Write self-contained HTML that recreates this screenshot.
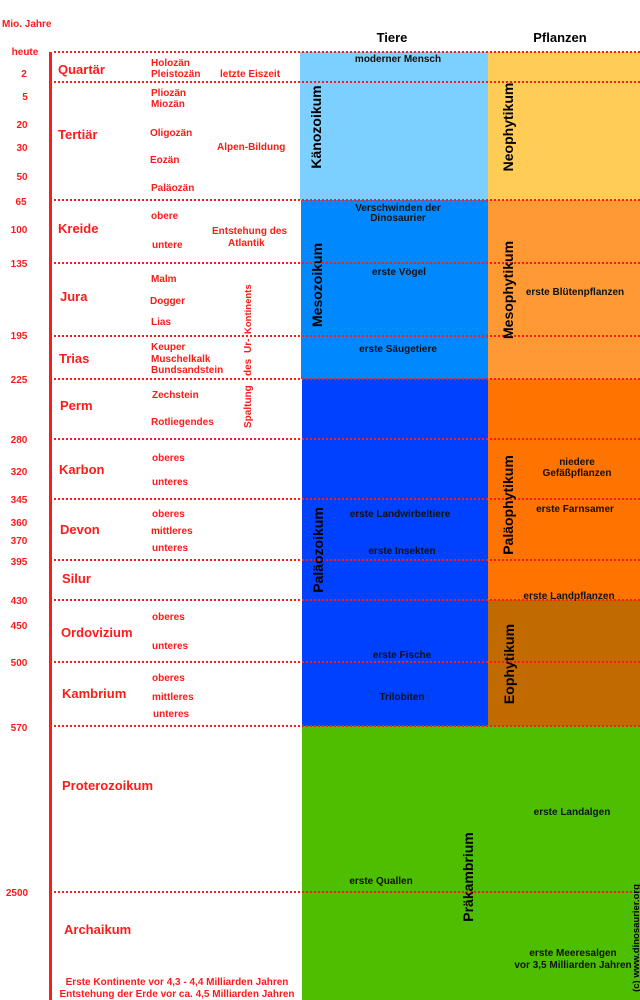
<!DOCTYPE html>
<html><head><meta charset="utf-8"><style>
html,body{margin:0;padding:0;background:#fff;width:640px;height:1000px;overflow:hidden}
svg{display:block}
text{font-family:"Liberation Sans",Arial,sans-serif;font-weight:bold}
.n{font-size:10px;fill:#ff1a1a}
.e{font-size:13px;fill:#ff1a1a}
.s{font-size:10px;fill:#ff1a1a}
.b{font-size:10px;fill:#111}
.v{font-size:13px;fill:#000}
.vv{font-size:14px;fill:#000}
</style></head><body>
<svg width="640" height="1000" viewBox="0 0 640 1000" xmlns="http://www.w3.org/2000/svg">
<rect x="300" y="52" width="188" height="148" fill="#7cd0ff"/>
<rect x="301" y="200" width="187" height="179" fill="#0088ff"/>
<rect x="302" y="379" width="186" height="347" fill="#0040ff"/>
<rect x="302" y="726" width="338" height="274" fill="#4dbf00"/>
<rect x="488" y="52" width="152" height="148" fill="#ffcc55"/>
<rect x="488" y="200" width="152" height="179" fill="#ff9933"/>
<rect x="488" y="379" width="152" height="221" fill="#ff7300"/>
<rect x="488" y="600" width="152" height="126" fill="#c06a00"/>
<rect x="49" y="52" width="3" height="948" fill="#ff1a1a"/>
<g stroke="#ff1a1a" stroke-width="2" stroke-dasharray="2,2">
<line x1="54" x2="640" y1="52" y2="52"/>
<line x1="54" x2="640" y1="82" y2="82"/>
<line x1="54" x2="640" y1="200" y2="200"/>
<line x1="54" x2="640" y1="263" y2="263"/>
<line x1="54" x2="640" y1="336" y2="336"/>
<line x1="54" x2="640" y1="379" y2="379"/>
<line x1="54" x2="640" y1="439" y2="439"/>
<line x1="54" x2="640" y1="499" y2="499"/>
<line x1="54" x2="640" y1="560" y2="560"/>
<line x1="54" x2="640" y1="600" y2="600"/>
<line x1="54" x2="640" y1="662" y2="662"/>
<line x1="54" x2="640" y1="726" y2="726"/>
<line x1="54" x2="640" y1="892" y2="892"/>
</g>
<text x="2" y="27" class="n">Mio. Jahre</text>
<text x="392" y="42" class="v" text-anchor="middle">Tiere</text>
<text x="560" y="42" class="v" text-anchor="middle">Pflanzen</text>
<g class="n" text-anchor="middle">
<text x="25" y="55">heute</text>
<text x="24" y="77">2</text>
<text x="25" y="100">5</text>
<text x="22" y="128">20</text>
<text x="22" y="151">30</text>
<text x="22" y="180">50</text>
<text x="21" y="205">65</text>
<text x="19" y="233">100</text>
<text x="19" y="267">135</text>
<text x="19" y="339">195</text>
<text x="19" y="383">225</text>
<text x="19" y="443">280</text>
<text x="19" y="475">320</text>
<text x="19" y="503">345</text>
<text x="19" y="526">360</text>
<text x="19" y="544">370</text>
<text x="19" y="565">395</text>
<text x="19" y="604">430</text>
<text x="19" y="629">450</text>
<text x="19" y="666">500</text>
<text x="19" y="731">570</text>
<text x="17" y="896">2500</text>
</g>
<g class="e">
<text x="58" y="74">Quartär</text>
<text x="58" y="139">Tertiär</text>
<text x="58" y="233">Kreide</text>
<text x="60" y="301">Jura</text>
<text x="59" y="363">Trias</text>
<text x="60" y="410">Perm</text>
<text x="59" y="474">Karbon</text>
<text x="60" y="534">Devon</text>
<text x="62" y="583">Silur</text>
<text x="61" y="637">Ordovizium</text>
<text x="62" y="698">Kambrium</text>
<text x="62" y="790">Proterozoikum</text>
<text x="64" y="934">Archaikum</text>
</g>
<g class="s">
<text x="151" y="66">Holozän</text>
<text x="151" y="77">Pleistozän</text>
<text x="220" y="77">letzte Eiszeit</text>
<text x="151" y="96">Pliozän</text>
<text x="151" y="107">Miozän</text>
<text x="150" y="136">Oligozän</text>
<text x="217" y="150">Alpen-Bildung</text>
<text x="150" y="163">Eozän</text>
<text x="151" y="191">Paläozän</text>
<text x="151" y="219">obere</text>
<text x="212" y="234">Entstehung des</text>
<text x="228" y="246">Atlantik</text>
<text x="152" y="248">untere</text>
<text x="151" y="282">Malm</text>
<text x="150" y="304">Dogger</text>
<text x="151" y="325">Lias</text>
<text x="151" y="350">Keuper</text>
<text x="151" y="362">Muschelkalk</text>
<text x="151" y="373">Bundsandstein</text>
<text x="152" y="398">Zechstein</text>
<text x="151" y="425">Rotliegendes</text>
<text x="152" y="461">oberes</text>
<text x="152" y="485">unteres</text>
<text x="152" y="517">oberes</text>
<text x="151" y="534">mittleres</text>
<text x="152" y="551">unteres</text>
<text x="152" y="620">oberes</text>
<text x="152" y="649">unteres</text>
<text x="152" y="681">oberes</text>
<text x="152" y="700">mittleres</text>
<text x="153" y="717">unteres</text>
<text transform="translate(251,428) rotate(-90)">Spaltung</text>
<text transform="translate(251,376) rotate(-90)">des</text>
<text transform="translate(251,353) rotate(-90)">Ur-</text>
<text transform="translate(251,334) rotate(-90)" style="font-size:9.5px">Kontinents</text>
<text x="177" y="985" text-anchor="middle">Erste Kontinente vor 4,3 - 4,4 Milliarden Jahren</text>
<text x="177" y="997" text-anchor="middle">Entstehung der Erde vor ca. 4,5 Milliarden Jahren</text>
</g>
<g class="b" text-anchor="middle">
<text x="398" y="62">moderner Mensch</text>
<text x="398" y="211">Verschwinden der</text>
<text x="398" y="221">Dinosaurier</text>
<text x="399" y="275">erste Vögel</text>
<text x="398" y="352">erste Säugetiere</text>
<text x="400" y="517">erste Landwirbeltiere</text>
<text x="402" y="554">erste Insekten</text>
<text x="402" y="658">erste Fische</text>
<text x="402" y="700">Trilobiten</text>
<text x="381" y="884">erste Quallen</text>
<text x="575" y="295">erste Blütenpflanzen</text>
<text x="577" y="465">niedere</text>
<text x="577" y="476">Gefäßpflanzen</text>
<text x="575" y="512">erste Farnsamer</text>
<text x="569" y="599">erste Landpflanzen</text>
<text x="572" y="815">erste Landalgen</text>
<text x="573" y="956">erste Meeresalgen</text>
<text x="573" y="968">vor 3,5 Milliarden Jahren</text>
</g>
<g class="vv" text-anchor="middle">
<text transform="translate(321,127) rotate(-90)">Känozoikum</text>
<text transform="translate(513,127) rotate(-90)">Neophytikum</text>
<text transform="translate(322,285) rotate(-90)">Mesozoikum</text>
<text transform="translate(513,290) rotate(-90)">Mesophytikum</text>
<text transform="translate(323,550) rotate(-90)">Paläozoikum</text>
<text transform="translate(513,505) rotate(-90)">Paläophytikum</text>
<text transform="translate(514,664) rotate(-90)">Eophytikum</text>
<text transform="translate(473,877) rotate(-90)">Präkambrium</text>
<text transform="translate(639,938) rotate(-90)" style="font-size:9.5px">(c) www.dinosaurier.org</text>
</g>
</svg>
</body></html>
